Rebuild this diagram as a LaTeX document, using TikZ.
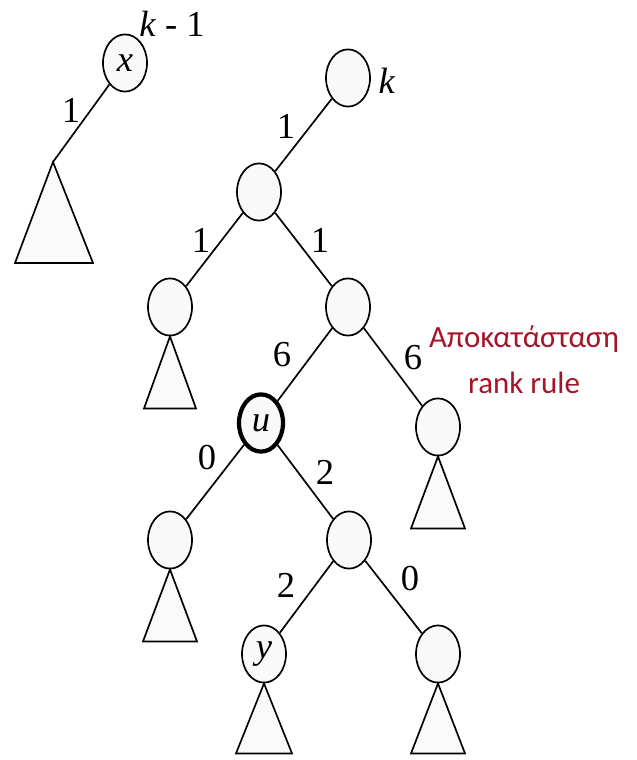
\documentclass[tikz,border=0pt]{standalone}
\usepackage{fontspec}
\setmainfont{Liberation Serif}
\newfontfamily\timesfont{Liberation Serif}
\newfontfamily\calibri{Carlito}
\usetikzlibrary{shapes.geometric}
\definecolor{darkred}{RGB}{165,20,40}

\begin{document}
\begin{tikzpicture}[x=0.025cm, y=-0.025cm,% pixel grid, y downwards
vertex/.style = {ellipse, draw, line width=1.2pt, fill=gray!5,
                 minimum width=1.1cm, minimum height=1.43cm,
                 inner sep=0pt, font=\timesfont\fontsize{26}{28}\selectfont\itshape},
 marked/.style = {vertex, line width=3pt},
    tri/.style = {draw, line width=1.2pt, fill=gray!4, line join=miter},
    lbl/.style = {font=\timesfont\fontsize{26}{28}\selectfont},
   note/.style = {text=darkred, align=center,
                  font=\calibri\fontsize{22}{33}\selectfont}
                    ]
	\useasboundingbox (0,0) rectangle (636,760);
	% left tree
	\node[vertex] (x) at (125,63) {x};
	\coordinate (xt) at (53,162);
	\draw[line width=1.2pt] (x) -- (xt);
	\draw[tri] (xt) -- (15,263) -- (93,263) -- cycle;
	\node[lbl] (kx) at (172,24) {\textit{k} - 1};
	\node[lbl] (l0) at (71,110) {1};

	% right tree
	\node[vertex] (root) at (348,78) {};
	\node[vertex] (a) at (259,192) {};
	\node[vertex] (b) at (170,307) {};
	\node[vertex] (c) at (348,307) {};
	\node[marked] (u) at (261,423) {u};
	\node[vertex] (d) at (438,427) {};
	\node[vertex] (e) at (170,540) {};
	\node[vertex] (f) at (349,540) {};
	\node[vertex] (y) at (264,654) {y};
	\node[vertex] (g) at (438,654) {};

	\draw[line width=1.2pt] (root) -- (a)  (a) -- (b)  (a) -- (c)
	      (c) -- (u)  (c) -- (d)  (u) -- (e)  (u) -- (f)
	      (f) -- (y)  (f) -- (g);

	% subtrees
	\draw[tri] (b.south) -- ++(-26,72) -- ++(52,0) -- cycle;
	\draw[tri] (d.south) -- ++(-27,72) -- ++(54,0) -- cycle;
	\draw[tri] (e.south) -- ++(-27,72) -- ++(54,0) -- cycle;
	\draw[tri] (y.south) -- ++(-28,70) -- ++(56,0) -- cycle;
	\draw[tri] (g.south) -- ++(-27,70) -- ++(54,0) -- cycle;

	% ranks
	\node[lbl] (k) at (387,81) {\textit{k}};
	\node[lbl] (l1) at (286,126) {1};
	\node[lbl] (l2) at (201,240) {1};
	\node[lbl] (l3) at (320,240) {1};
	\node[lbl] (l4) at (282,355) {6};
	\node[lbl] (l5) at (413,358) {6};
	\node[lbl] (l6) at (207,458) {0};
	\node[lbl] (l7) at (325,472) {2};
	\node[lbl] (l8) at (286,585) {2};
	\node[lbl] (l9) at (410,579) {0};

	\node[note] (rule) at (524,360) {Αποκατάσταση\\rank rule};
\end{tikzpicture}
\end{document}
